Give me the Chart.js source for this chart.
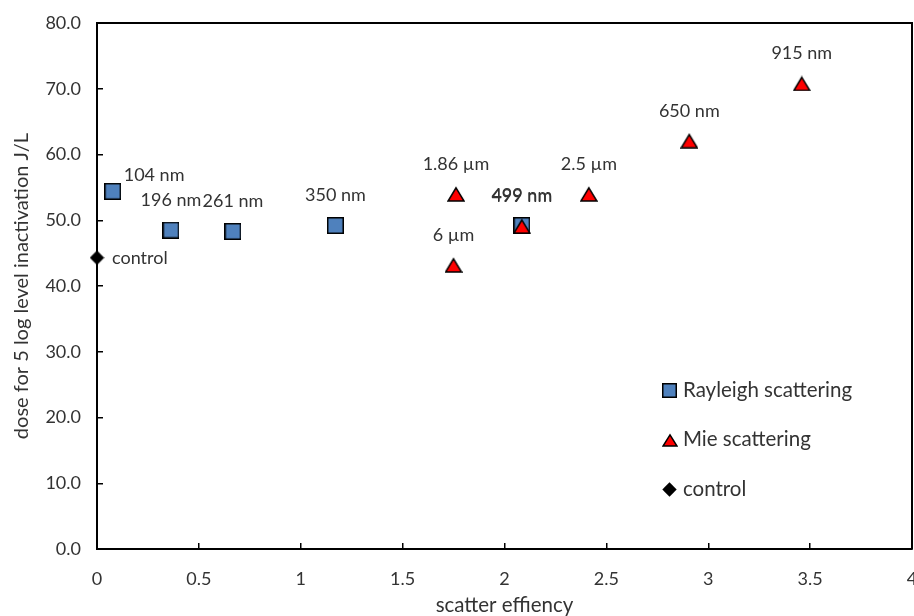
<!DOCTYPE html>
<html>
<head>
<meta charset="utf-8">
<script src="https://cdn.jsdelivr.net/npm/chart.js@4/dist/chart.umd.min.js"></script>
<style>
html, body { margin: 0; padding: 0; background: #ffffff; }
#wrap { width: 914px; height: 616px; }
</style>
</head>
<body>
<div id="wrap"><canvas id="c" width="914" height="616"></canvas></div>
<script>
// ---- data ----
const rayleighX = [0.077, 0.363, 0.667, 1.170, 2.085];
const rayleighY = [54.4, 48.5, 48.3, 49.2, 49.2];
const rayleighLabels = ['104 nm', '196 nm', '261 nm', '350 nm', '499 nm'];
const rayleighPlace = ['upRight', 'up', 'up', 'up', 'up'];

const mieX = [1.762, 1.750, 2.085, 2.414, 2.907, 3.459];
const mieY = [54.0, 43.2, 49.1, 54.0, 62.1, 70.8];
const mieLabels = ['1.86 µm', '6 µm', '499 nm', '2.5 µm', '650 nm', '915 nm'];
const miePlace = ['up', 'up', 'up', 'up', 'up', 'up'];

const controlX = [0];
const controlY = [44.3];
const controlLabels = ['control'];
const controlPlace = ['right'];

const seriesNames = ['Rayleigh scattering', 'Mie scattering', 'control'];
const xTicks = { min: 0, max: 4, step: 0.5 };
const yTicks = { min: 0, max: 80, step: 10 };
const xTitle = 'scatter effiency';
const yTitle = 'dose for 5 log level inactivation J/L';

// ---- styling ----
const FONT = 'Lato, "Open Sans", sans-serif';
const TEXT = '#333333';

function makeMarker(kind, w, h) {
  const cv = document.createElement('canvas');
  cv.width = w; cv.height = h;
  const ctx = cv.getContext('2d');
  ctx.lineWidth = 1.5;
  ctx.strokeStyle = '#000000';
  ctx.beginPath();
  if (kind === 'square') {
    ctx.rect(0.75, 0.75, w - 1.5, h - 1.5);
    ctx.fillStyle = '#4F81BD';
  } else if (kind === 'triangle') {
    ctx.moveTo(w / 2, 1.8);
    ctx.lineTo(w - 1, h - 0.9);
    ctx.lineTo(1, h - 0.9);
    ctx.closePath();
    ctx.fillStyle = '#FF0000';
  } else {
    ctx.moveTo(w / 2, 0.3);
    ctx.lineTo(w - 0.3, h / 2);
    ctx.lineTo(w / 2, h - 0.3);
    ctx.lineTo(0.3, h / 2);
    ctx.closePath();
    ctx.fillStyle = '#000000';
  }
  ctx.fill();
  if (kind !== 'diamond') ctx.stroke();
  return cv;
}

const squareMk = makeMarker('square', 17, 17);
const triMk = makeMarker('triangle', 18, 16);
const diaMk = makeMarker('diamond', 15, 15);
const legSquare = makeMarker('square', 15, 15);
const legTri = makeMarker('triangle', 16, 14);
const legDia = makeMarker('diamond', 15, 15);

function pts(xs, ys) { return xs.map((x, i) => ({ x: x, y: ys[i] })); }

const pointLabelPlugin = {
  id: 'pointLabels',
  afterDatasetsDraw(chart) {
    const ctx = chart.ctx;
    ctx.save();
    ctx.font = '18px ' + FONT;
    ctx.fillStyle = TEXT;
    chart.data.datasets.forEach((ds, di) => {
      const meta = chart.getDatasetMeta(di);
      meta.data.forEach((el, i) => {
        const txt = ds.pointLabels[i];
        const place = ds.labelPlace[i];
        let x = el.x, y = el.y;
        if (place === 'up') { ctx.textAlign = 'center'; y -= 30; }
        else if (place === 'upRight') { ctx.textAlign = 'left'; x += 11; y -= 16; }
        else { ctx.textAlign = 'left'; x += 15; }
        ctx.textBaseline = 'middle';
        ctx.fillText(txt, x, y);
      });
    });
    ctx.restore();
  }
};

const framePlugin = {
  id: 'frame',
  beforeDatasetsDraw(chart) {
    const { ctx, chartArea: a } = chart;
    ctx.save();
    ctx.strokeStyle = '#000000';
    ctx.lineWidth = 2;
    ctx.beginPath();
    ctx.moveTo(a.left, a.top);
    ctx.lineTo(a.right, a.top);
    ctx.lineTo(a.right, a.bottom);
    ctx.stroke();
    ctx.restore();
  }
};

const legendPlugin = {
  id: 'insideLegend',
  afterDraw(chart) {
    const { ctx, chartArea: a } = chart;
    const marks = [legSquare, legTri, legDia];
    const mx = a.left + (a.right - a.left) * 0.703;
    const y0 = a.top + (a.bottom - a.top) * 0.698;
    const gap = 49.5;
    ctx.save();
    ctx.font = '20.5px ' + FONT;
    ctx.fillStyle = TEXT;
    ctx.textAlign = 'left';
    ctx.textBaseline = 'middle';
    seriesNames.forEach((name, i) => {
      const m = marks[i];
      const cy = y0 + i * gap;
      ctx.drawImage(m, Math.round(mx - m.width / 2), Math.round(cy - m.height / 2));
      ctx.fillText(name, mx + 13, cy);
    });
    ctx.restore();
  }
};

function fixY(scale) { scale.width = 97; scale.paddingTop = 0; scale.paddingBottom = 0; }
function fixX(scale) { scale.height = 67; scale.paddingLeft = 0; scale.paddingRight = 0; }

new Chart(document.getElementById('c'), {
  type: 'scatter',
  data: {
    datasets: [
      { label: seriesNames[0], data: pts(rayleighX, rayleighY), pointStyle: squareMk,
        pointLabels: rayleighLabels, labelPlace: rayleighPlace, order: 2, clip: false },
      { label: seriesNames[1], data: pts(mieX, mieY), pointStyle: triMk,
        pointLabels: mieLabels, labelPlace: miePlace, order: 1, clip: false },
      { label: seriesNames[2], data: pts(controlX, controlY), pointStyle: diaMk,
        pointLabels: controlLabels, labelPlace: controlPlace, order: 0, clip: false }
    ]
  },
  options: {
    responsive: false,
    animation: false,
    events: [],
    layout: { autoPadding: false, padding: { top: 23, right: 2, left: 0, bottom: 0 } },
    plugins: { legend: { display: false }, tooltip: { enabled: false } },
    scales: {
      x: {
        type: 'linear', min: xTicks.min, max: xTicks.max,
        afterFit: fixX,
        ticks: { stepSize: xTicks.step, color: TEXT, font: { family: FONT, size: 18 }, padding: 25,
                 maxRotation: 0, callback: v => String(v) },
        grid: { drawOnChartArea: false, tickLength: -6, color: '#000000', lineWidth: 1.5 },
        border: { color: '#000000', width: 2 },
        title: { display: true, text: xTitle, color: TEXT, font: { family: FONT, size: 20.5 },
                 padding: { top: 0, bottom: -2 } }
      },
      y: {
        type: 'linear', min: yTicks.min, max: yTicks.max,
        afterFit: fixY,
        ticks: { stepSize: yTicks.step, color: TEXT, font: { family: FONT, size: 18 }, padding: 22,
                 callback: v => Number(v).toFixed(1) },
        grid: { drawOnChartArea: false, tickLength: -6, color: '#000000', lineWidth: 1.5 },
        border: { color: '#000000', width: 2 },
        title: { display: true, text: yTitle, color: TEXT, font: { family: FONT, size: 20 },
                 padding: { top: 10, bottom: 0 } }
      }
    }
  },
  plugins: [framePlugin, pointLabelPlugin, legendPlugin]
});
</script>
</body>
</html>
